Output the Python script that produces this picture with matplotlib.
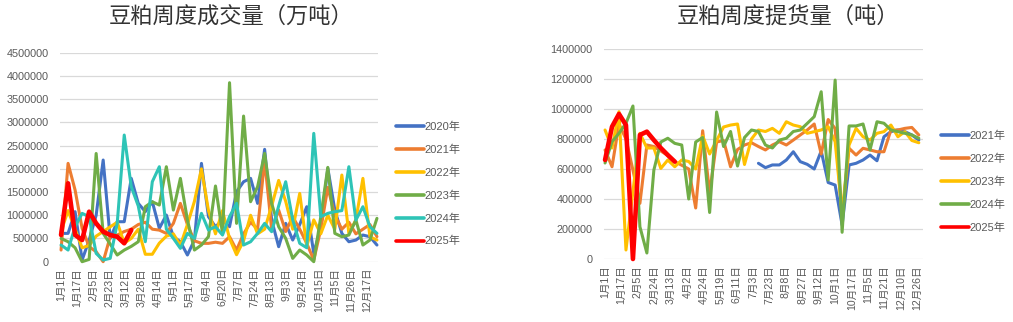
import matplotlib
matplotlib.use("Agg")
import matplotlib.pyplot as plt
import numpy as np

plt.rcParams["font.family"] = ["Liberation Sans", "Noto Sans CJK SC", "DejaVu Sans"]

# ---------------- weekly trading volume (left) ----------------
vol_ticks = ["1月1日", "1月17日", "2月5日", "2月23日", "3月12日", "3月28日", "4月14日",
             "5月1日", "5月17日", "6月4日", "6月20日", "7月7日", "7月24日", "8月13日",
             "9月3日", "9月24日", "10月15日", "11月5日", "11月26日", "12月17日"]
vol_years = ["2020年", "2021年", "2022年", "2023年", "2024年", "2025年"]

vol_2020 = [610000, 610000, 1077000, 36000, 466000, 1000000, 2189000, 500000, 861000, 861000,
            1794000, 1256000, 1077000, 1292000, 718000, 1005000, 538000, 430000, 144000, 466000,
            2117000, 969000, 753000, 897000, 753000, 1507000, 1722000, 1794000, 1256000, 2419000,
            897000, 323000, 825000, 466000, 800000, 1184000, 179000, 753000, 2010000, 1112000,
            610000, 430000, 466000, 574000, 538000, 359000]
vol_2021 = [251000, 2117000, 1543000, 718000, 323000, 215000, 0, 538000, 574000, 650000,
            700000, 800000, 850000, 700000, 680000, 610000, 825000, 1256000, 800000, 450000,
            395000, 395000, 420000, 395000, 538000, 251000, 600000, 850000, 700000, 2189000,
            700000, 1112000, 650000, 969000, 700000, 395000, 36000, 700000, 1600000, 1000000,
            700000, 850000, 600000, 700000, 800000, 540000]
vol_2022 = [650000, 1100000, 700000, 300000, 350000, 550000, 650000, 750000, 850000, 400000,
            500000, 700000, 160000, 160000, 400000, 550000, 600000, 350000, 800000, 1300000,
            2000000, 1100000, 600000, 1100000, 500000, 150000, 450000, 1000000, 600000, 700000,
            1200000, 1750000, 1300000, 700000, 1470000, 323000, 900000, 600000, 1000000, 700000,
            1866000, 610000, 900000, 1794000, 538000, 466000]
vol_2023 = [500000, 430000, 300000, 0, 50000, 2330000, 610000, 380000, 144000, 250000,
            330000, 430000, 1184000, 1290000, 1220000, 2045000, 1112000, 1794000, 900000, 251000,
            360000, 540000, 1630000, 610000, 3854000, 825000, 3136000, 1292000, 1615000, 2332000,
            1256000, 753000, 502000, 72000, 251000, 144000, 0, 969000, 2031000, 610000,
            538000, 574000, 897000, 359000, 466000, 933000]
vol_2024 = [359000, 251000, 753000, 1041000, 969000, 179000, 36000, 72000, 825000, 2727000,
            1615000, 1200000, 430000, 1722000, 2045000, 700000, 502000, 287000, 610000, 502000,
            1041000, 682000, 753000, 574000, 969000, 1256000, 359000, 430000, 610000, 825000,
            646000, 1200000, 1722000, 900000, 395000, 300000, 2763000, 969000, 1041000, 1077000,
            1100000, 2045000, 897000, 1184000, 753000, 610000]
vol_2025 = [575000, 1688000, 575000, 467000, 1077000, 826000, 646000, 575000, 538000, 396000,
            682000]

# ---------------- weekly pick-up volume (right) ----------------
pick_ticks = ["1月1日", "1月17日", "2月5日", "2月24日", "3月13日", "4月2日", "4月24日",
              "5月19日", "6月11日", "7月3日", "7月23日", "8月8日", "8月27日", "9月12日",
              "10月1日", "10月17日", "11月5日", "11月21日", "12月10日", "12月26日"]
pick_years = ["2021年", "2022年", "2023年", "2024年", "2025年"]

nan = np.nan
pick_2021 = [nan] * 22 + [638000, 609000, 627000, 627000, 660000, 715000, 649000, 631000,
                          600000, 720000, 510000, 493000, 227000, 627000, 638000, 660000,
                          693000, 655000, 815000, 849000, 860000, 849000, 827000, 793000]
pick_2022 = [727000, 615000, 900000, 800000, 593000, 371000, 760000, 750000, 720000, 690000,
             650000, 625000, 600000, 340000, 855000, 440000, 780000, 790000, 615000, 730000,
             760000, 775000, 750000, 727000, 760000, 782000, 760000, 793000, 827000, 860000,
             900000, 700000, 930000, 870000, 280000, 738000, 693000, 738000, 727000, 715000,
             715000, 860000, 860000, 871000, 877000, 827000]
pick_2023 = [860000, 740000, 982000, 60000, 450000, 838000, 740000, 740000, 604000, 660000,
             615000, 660000, 650000, 600000, 820000, 700000, 790000, 880000, 893000, 900000,
             630000, 800000, 860000, 850000, 871000, 838000, 915000, 893000, 882000, 838000,
             849000, 860000, 882000, 782000, 305000, 760000, 871000, 815000, 793000, 838000,
             849000, 893000, 815000, 849000, 790000, 775000]
pick_2024 = [640000, 782000, 838000, 905000, 1020000, 215000, 40000, 593000, 780000, 805000,
             771000, 760000, 400000, 780000, 810000, 310000, 980000, 750000, 850000, 620000,
             810000, 860000, 850000, 760000, 740000, 793000, 805000, 850000, 860000, 904000,
             949000, 1115000, 527000, 1193000, 178000, 887000, 887000, 900000, 727000, 915000,
             905000, 860000, 849000, 838000, 827000, 805000]
pick_2025 = [660000, 882000, 967000, 893000, 0, 827000, 849000, 793000, 740000, 693000,
             649000]

BLUE, ORANGE, GOLD, GREEN, TEAL, RED = "#4472C4", "#ED7D31", "#FFC000", "#70AD47", "#2EC4B6", "#FF0000"
TXT = "#595959"

fig = plt.figure(figsize=(10.13, 3.22), dpi=100)
W, H = 1013, 322
ax1 = fig.add_axes([60 / W, 60.3 / H, 318 / W, 209 / H])
ax2 = fig.add_axes([604 / W, 63 / H, 319 / W, 210 / H])


def style(ax, ymax, ystep, ticks, tick_end, xmax):
    for s in ax.spines.values():
        s.set_visible(False)
    ax.set_ylim(0, ymax)
    ax.set_xlim(-0.15, xmax)
    yt = np.arange(0, ymax + 1, ystep)
    ax.set_yticks(yt)
    ax.set_yticklabels([f"{int(v)}" for v in yt], color=TXT, fontsize=7.8)
    ax.yaxis.grid(True, color="#D9D9D9", lw=0.9)
    ax.set_axisbelow(True)
    ax.tick_params(axis="y", length=0, pad=8.3)
    ax.set_xticks(np.linspace(0, tick_end, len(ticks)))
    ax.set_xticklabels(ticks, rotation=90, color=TXT, fontsize=7.6,
                       ha="center", va="top")
    ax.tick_params(axis="x", length=0, pad=4.5)


def draw(ax, series, colors, widths):
    lines = []
    for vals, c, w in zip(series, colors, widths):
        x = np.arange(len(vals))
        ln, = ax.plot(x, vals, color=c, lw=w, solid_joinstyle="round",
                      solid_capstyle="round", clip_on=False)
        lines.append(ln)
    return lines


N = len(vol_2020)
style(ax1, 4500000, 500000, vol_ticks, 43.6, N - 1 + 0.15)
style(ax2, 1400000, 200000, pick_ticks, 44.8, N - 1 + 0.6)

h1 = draw(ax1, [vol_2020, vol_2021, vol_2022, vol_2023, vol_2024, vol_2025],
          [BLUE, ORANGE, GOLD, GREEN, TEAL, RED], [2.2, 2.2, 2.2, 2.2, 2.2, 3.3])
h2 = draw(ax2, [pick_2021, pick_2022, pick_2023, pick_2024, pick_2025],
          [BLUE, ORANGE, GOLD, GREEN, RED], [2.2, 2.2, 2.2, 2.2, 3.3])

leg_kw = dict(loc="upper left", frameon=False, fontsize=8, handlelength=2.5,
              handletextpad=0.1, labelspacing=1.12, borderpad=0, borderaxespad=0,
              labelcolor=TXT)
ax1.legend(h1, vol_years, bbox_to_anchor=(396 / W, 1 - 122 / H),
           bbox_transform=fig.transFigure, **leg_kw)
ax2.legend(h2, pick_years, bbox_to_anchor=(941 / W, 1 - 131 / H),
           bbox_transform=fig.transFigure, **leg_kw)
for leg in (ax1.get_legend(), ax2.get_legend()):
    for ln in leg.get_lines():
        ln.set_linewidth(2.6)

fig.text(231 / W, 1 - 16 / H, "豆粕周度成交量（万吨）", ha="center", va="center",
         fontsize=16, family=["Noto Sans CJK SC"], color="#333333")
fig.text(788 / W, 1 - 16 / H, "豆粕周度提货量（吨）", ha="center", va="center",
         fontsize=16, family=["Noto Sans CJK SC"], color="#333333")

fig.savefig("out.png", dpi=100, facecolor="white")
